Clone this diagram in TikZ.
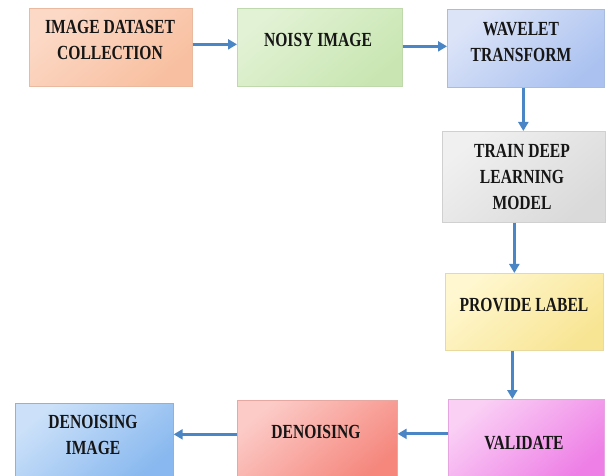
\documentclass[tikz,border=0pt]{standalone}
\usepackage{fontspec}
\setmainfont{Liberation Serif}
\usepackage{graphicx}
\usetikzlibrary{arrows.meta}
\newcommand{\blabel}[1]{\scalebox{0.78}[1]{\begin{tabular}{@{}c@{}}#1\end{tabular}}}
\definecolor{arrowblue}{HTML}{4A86C5}
\definecolor{txtcol}{HTML}{161616}
\definecolor{c1a}{HTML}{FCD9C6}\definecolor{c1b}{HTML}{F8BFA0}\definecolor{c1d}{HTML}{E9B9A0}
\definecolor{c2a}{HTML}{E2F2D5}\definecolor{c2b}{HTML}{C9E6B2}\definecolor{c2d}{HTML}{BFD9AC}
\definecolor{c3a}{HTML}{DCE4F8}\definecolor{c3b}{HTML}{ABC2F0}\definecolor{c3d}{HTML}{A9BCDF}
\definecolor{c4a}{HTML}{F0F0F0}\definecolor{c4b}{HTML}{DADADA}\definecolor{c4d}{HTML}{D0D0D0}
\definecolor{c5a}{HTML}{FFF7CF}\definecolor{c5b}{HTML}{F8E594}\definecolor{c5d}{HTML}{E8DA9E}
\definecolor{c6a}{HTML}{FAD0F5}\definecolor{c6b}{HTML}{EE7FE6}\definecolor{c6d}{HTML}{E6A5E0}
\definecolor{c7a}{HTML}{FCCBC7}\definecolor{c7b}{HTML}{F5877D}\definecolor{c7d}{HTML}{E8A8A2}
\definecolor{c8a}{HTML}{CCE1F9}\definecolor{c8b}{HTML}{88B8EF}\definecolor{c8d}{HTML}{8CB2DD}
\begin{document}
\begin{tikzpicture}[x=1pt,y=-1pt,
  box/.style n args={3}{draw=#3, line width=0.7pt, inner sep=0pt, anchor=north west,
    top color=#1, bottom color=#2, shading angle=40},
  lbl/.style={font=\fontsize{20}{26}\selectfont\bfseries, text=txtcol, inner sep=0pt},
  arr/.style={draw=arrowblue, line width=2.8pt, -{Triangle[length=9pt,width=10pt]}}]
\useasboundingbox (0,0) rectangle (606,476);
\clip (0,0) rectangle (606,476);
\fill[white] (0,0) rectangle (606,476);
% boxes
\node[box={c1a}{c1b}{c1d}, minimum width=163pt, minimum height=78pt] (b1) at (29,8) {};
\node[box={c2a}{c2b}{c2d}, minimum width=165pt, minimum height=78pt] (b2) at (237,8) {};
\node[box={c3a}{c3b}{c3d}, minimum width=157pt, minimum height=78pt] (b3) at (447,9) {};
\node[box={c4a}{c4b}{c4d}, minimum width=163pt, minimum height=91pt] (b4) at (442,131) {};
\node[box={c5a}{c5b}{c5d}, minimum width=158pt, minimum height=77pt] (b5) at (445,273) {};
\node[box={c6a}{c6b}{c6d}, minimum width=156pt, minimum height=81pt] (b6) at (448,399) {};
\node[box={c7a}{c7b}{c7d}, minimum width=160pt, minimum height=80pt] (b7) at (237,400) {};
\node[box={c8a}{c8b}{c8d}, minimum width=158pt, minimum height=77pt] (b8) at (15,403) {};
% labels
\node[lbl] (t1) at (110,41) {\blabel{IMAGE DATASET\\COLLECTION}};
\node[lbl] (t2) at (318,41) {\blabel{NOISY IMAGE}};
\node[lbl] (t3) at (521,43) {\blabel{WAVELET\\TRANSFORM}};
\node[lbl] (t4) at (522,178) {\blabel{TRAIN DEEP\\LEARNING\\MODEL}};
\node[lbl] (t5) at (524,306) {\blabel{PROVIDE LABEL}};
\node[lbl] (t6) at (524,444) {\blabel{VALIDATE}};
\node[lbl] (t7) at (316,433) {\blabel{DENOISING}};
\node[lbl] (t8) at (93,436) {\blabel{DENOISING\\IMAGE}};
% connectors
\draw[arr] ([yshift=3pt]b1.east) -- ([yshift=3pt]b1.east -| b2.west);
\draw[arr] ([yshift=1pt]b2.east) -- ([yshift=1pt]b2.east -| b3.west);
\draw[arr] ([xshift=-2.5pt]b3.south) -- ([xshift=-2.5pt]b3.south |- b4.north);
\draw[arr] ([xshift=-9.5pt]b4.south) -- ([xshift=-9.5pt]b4.south |- b5.north);
\draw[arr] ([xshift=-12pt]b5.south) -- ([xshift=-12pt]b5.south |- b6.north);
\draw[arr] ([yshift=6pt]b6.west) -- ([yshift=6pt]b6.west -| b7.east);
\draw[arr] ([yshift=6pt]b7.west) -- ([yshift=6pt]b7.west -| b8.east);
\end{tikzpicture}
\end{document}
